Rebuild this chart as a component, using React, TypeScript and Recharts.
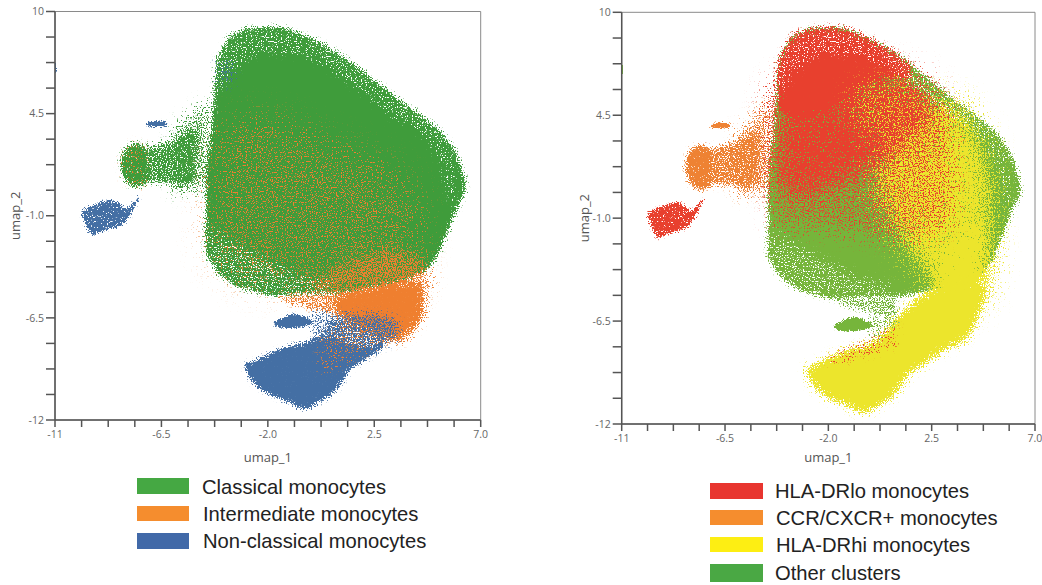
import React from 'react';
import { ComposedChart, Area, XAxis, YAxis, ReferenceArea } from 'recharts';

type Row = { x: number; r: [number, number] };
const rows = (a: [number, number, number][]): Row[] => a.map(([x, lo, hi]) => ({ x, r: [lo, hi] }));

// tick values and labels
const xTicks = [-11, -9.875, -8.75, -7.625, -6.5, -5.375, -4.25, -3.125, -2, -0.875, 0.25, 1.375, 2.5, 3.625, 4.75, 5.875, 7];
const yTicks = [10, 8.625, 7.25, 5.875, 4.5, 3.125, 1.75, 0.375, -1, -2.375, -3.75, -5.125, -6.5, -7.875, -9.25, -10.625, -12];
const xLabels: Record<string, string> = { '-11': '-11', '-6.5': '-6.5', '-2': '-2.0', '2.5': '2.5', '7': '7.0' };
const yLabels: Record<string, string> = { '10': '10', '4.5': '4.5', '-1': '-1.0', '-6.5': '-6.5', '-12': '-12' };

// cluster outlines: [umap_1, umap_2 low, umap_2 high]
const mainBody = rows([[-4.62, -3.0, 1.6], [-4.45, -3.4, 3.0], [-4.3, -3.7, 4.6], [-4.16, -4.0, 7.2], [-3.88, -4.3, 8.1], [-3.45, -4.7, 8.8], [-2.61, -5.05, 9.1], [-1.62, -5.3, 9.16], [-0.63, -5.2, 8.8], [0.78, -5.2, 7.9], [2.19, -4.9, 6.6], [3.6, -4.5, 5.2], [4.87, -3.7, 4.0], [5.57, -1.94, 3.1], [6.1, -0.3, 1.9], [6.33, 0.2, 0.9]]);
const leftBlob = rows([[-8.22, 1.5, 2.0], [-7.97, 0.8, 2.7], [-7.5, 0.5, 2.9], [-7.1, 0.8, 2.55]]);
const leftMid = rows([[-7.5, 0.8, 2.7], [-6.28, 0.75, 3.0], [-5.6, 0.55, 3.4], [-5.0, 0.95, 3.9]]);
const leftTail = rows([[-6.0, 0.2, 3.6], [-5.0, 0.4, 4.7], [-4.4, 0.8, 5.3]]);
const thinStreak = rows([[-7.12, 3.85, 4.0], [-6.7, 3.8, 4.1], [-6.3, 3.85, 4.05]]);
const farBlob = rows([[-9.87, -0.9, -0.8], [-9.66, -1.6, -0.55], [-9.4, -2.05, -0.45], [-9.0, -1.85, -0.25], [-8.6, -1.7, -0.15], [-8.25, -1.55, -0.35], [-8.0, -1.3, -0.6], [-7.7, -0.7, -0.3], [-7.45, -0.1, 0.1]]);
const midCluster = rows([[-1.73, -6.9, -6.7], [-1.3, -7.05, -6.45], [-0.87, -7.05, -6.3], [-0.45, -6.95, -6.45], [-0.1, -6.8, -6.65]]);
const strayEdge = rows([[-11, 6.7, 7.2], [-10.95, 6.7, 7.2]]);

const lowerLobe = rows([[-2.96, -9.25, -8.95], [-2.61, -10.0, -8.85], [-2.04, -10.56, -8.49], [-1.2, -11.0, -8.05], [-0.48, -11.42, -7.85], [0.2, -11.0, -7.5], [0.9, -10.38, -7.6], [1.5, -9.3, -7.9], [2.2, -8.7, -8.0], [2.9, -8.1, -7.7]]);
const lobeMix = rows([[0.4, -8.6, -6.8], [1.5, -8.4, -6.3], [2.5, -8.1, -6.3], [3.5, -7.6, -6.6]]);
const orangeSolid = rows([[0.78, -6.2, -5.3], [1.63, -6.9, -5.0], [2.47, -7.4, -4.8], [3.3, -7.8, -4.6], [4.0, -7.4, -4.5], [4.6, -6.3, -4.6]]);
const orangeBand = rows([[-0.5, -5.3, -4.6], [0.8, -5.3, -3.8], [2.2, -5.0, -3.0], [3.6, -4.8, -2.8], [4.8, -5.2, -3.4]]);
const orangeWide = rows([[-4.4, -3.0, 2.8], [-3.0, -4.4, 4.2], [-1.5, -4.8, 4.0], [0, -4.8, 3.2], [1.5, -4.4, 2.4], [3.0, -3.8, 1.6], [4.4, -3.2, -0.2]]);
const orangeOnLobe = rows([[0.2, -9.5, -7.6], [1.5, -8.8, -6.6], [3.4, -7.6, -6.5]]);
const blueOnTop = rows([[-4.2, 6.0, 7.4], [-3.4, 6.0, 7.4]]);
const gapUpper = rows([[-1.6, -5.55, -5.3], [-0.5, -5.95, -5.2], [0.5, -6.3, -5.2], [1.0, -6.4, -5.3]]);
const gapLower = rows([[-0.2, -7.2, -6.1], [0.5, -7.8, -6.2], [1.2, -7.6, -6.2]]);
const holesLowerLeft = rows([[-4.5, -3.4, -1.6], [-3.5, -4.7, -2.4], [-2.0, -5.3, -3.4], [-0.5, -5.3, -4.2], [0.8, -5.3, -4.6]]);
const holesUpperLeft = rows([[-4.2, 5.5, 7.4], [-3.4, 6.8, 8.8], [-2.2, 7.8, 9.2], [-0.6, 7.6, 8.9], [1.0, 6.6, 7.8], [3.0, 4.6, 5.6], [5.0, 2.6, 4.0], [5.9, -1.0, 2.0]]);

const yellowLobe = rows([[-2.96, -9.25, -8.95], [-2.61, -10.0, -8.85], [-2.04, -10.56, -8.49], [-1.2, -11.0, -8.05], [-0.48, -11.42, -7.85], [0.2, -11.0, -7.4], [0.9, -10.38, -6.5], [1.55, -9.3, -5.6], [2.28, -8.76, -5.0], [3.0, -8.04, -4.7], [3.73, -7.68, -4.6], [4.3, -6.9, -4.6], [4.6, -5.9, -4.6], [4.9, -4.9, -4.5]]);
const yellowHaze = rows([[0, 0.5, 3.5], [0.83, -1.5, 5.0], [2.0, -3.6, 5.3], [2.9, -5.0, 5.3], [3.73, -6.0, 5.0], [5.0, -4.4, 2.0]]);
const yellowRight = rows([[3.8, -3.4, 3.0], [4.7, -3.6, 1.8], [5.3, -2.6, 1.0]]);
const yellowCoreLow = rows([[2.6, -5.2, -4.0], [3.4, -5.5, -2.8], [4.2, -5.5, -1.4], [4.7, -5.3, -1.2]]);
const yellowCoreMid = rows([[1.7, 0.2, 1.8], [2.6, -0.4, 2.2], [3.2, 0, 2.0]]);
const redTop = rows([[-4.2, 5.5, 7.2], [-3.88, 4.5, 8.1], [-3.45, 4.3, 8.8], [-2.61, 4.6, 9.1], [-1.62, 5.0, 9.16], [-0.63, 5.8, 8.8], [0.78, 6.5, 7.9], [1.6, 6.4, 7.1]]);
const redFade = rows([[-4.3, 0.2, 6.0], [-3.0, 0.2, 6.4], [-1.5, 0.8, 6.5], [0, 1.8, 6.8], [1.5, 3.0, 6.6], [2.5, 4.0, 5.7]]);
const redWide = rows([[-4.4, -1.5, 3.0], [-2.0, -1.6, 4.0], [0, -2.0, 5.0], [2.0, -2.2, 5.5], [3.5, -1.0, 5.0]]);
const yellowOnRed = rows([[-1.0, 4.0, 6.0], [1.0, 3.0, 6.5], [2.0, 3.0, 6.0]]);
const redOnLobe = rows([[-2.0, -8.9, -8.4], [-0.5, -8.4, -7.6], [1.0, -7.8, -6.6]]);

// palettes
const cGreen = '#3f9c3b', cOrange = '#ef7f2f', cBlue = '#446fa4';
const rRed = '#e8402e', rOrange = '#ee8233', rYellow = '#ece52c', rGreen = '#76b53b', white = '#ffffff';

type Layer = { data: Row[]; color: string; blur: number; density: number };
const L = (data: Row[], color: string, blur: number, density: number): Layer => ({ data, color, blur, density });

const leftLayers: Layer[] = [
  L(mainBody, cGreen, 2.5, 1.14),
  L(leftMid, cGreen, 3, 0.78),
  L(leftBlob, cGreen, 2.5, 1.04),
  L(leftTail, cGreen, 7, 0.55),
  L(leftBlob, cOrange, 4, 0.22),
  L(thinStreak, cBlue, 0.8, 1.2),
  L(farBlob, cBlue, 1.8, 0.98),
  L(midCluster, cBlue, 1.2, 1.15),
  L(orangeWide, cOrange, 16, 0.3),
  L(orangeBand, cOrange, 8, 0.62),
  L(gapUpper, cOrange, 2, 0.55),
  L(gapLower, cBlue, 3, 0.45),
  L(orangeSolid, cOrange, 4, 1.12),
  L(lobeMix, cBlue, 4, 0.72),
  L(lowerLobe, cBlue, 2, 1.12),
  L(orangeOnLobe, cOrange, 5, 0.28),
  L(blueOnTop, cBlue, 4, 0.35),
  L(holesLowerLeft, white, 5, 0.3),
  L(holesUpperLeft, white, 3, 0.26),
  L(strayEdge, cBlue, 0.2, 1.4),
];

const rightLayers: Layer[] = [
  L(mainBody, rGreen, 2.5, 1.14),
  L(leftMid, rOrange, 3, 0.78),
  L(leftBlob, rOrange, 2.5, 1.04),
  L(leftTail, rOrange, 7, 0.55),
  L(thinStreak, rOrange, 0.8, 1.2),
  L(farBlob, rRed, 1.8, 0.98),
  L(midCluster, rGreen, 1.2, 1.15),
  L(gapUpper, rGreen, 2, 0.55),
  L(gapLower, rGreen, 3, 0.4),
  L(yellowRight, rYellow, 10, 0.45),
  L(yellowHaze, rYellow, 14, 0.98),
  L(yellowCoreLow, rYellow, 8, 1.12),
  L(yellowCoreMid, rYellow, 10, 1.02),
  L(yellowLobe, rYellow, 4, 1.15),
  L(redOnLobe, rRed, 3, 0.25),
  L(redWide, rRed, 10, 0.42),
  L(redFade, rRed, 14, 0.95),
  L(redTop, rRed, 3, 1.12),
  L(yellowOnRed, rYellow, 10, 0.32),
  L(holesLowerLeft, white, 5, 0.3),
  L(holesUpperLeft, white, 3, 0.26),
  L(strayEdge, rGreen, 0.2, 1.4),
];

const leftLegend = [
  { label: 'Classical monocytes', swatch: '#45a843', top: 478, h: 16, textX: 202, cy: 487 },
  { label: 'Intermediate monocytes', swatch: '#f58d2e', top: 506, h: 15, textX: 203, cy: 514 },
  { label: 'Non-classical monocytes', swatch: '#4169a8', top: 533, h: 16, textX: 203, cy: 541 },
];
const rightLegend = [
  { label: 'HLA-DRlo monocytes', swatch: '#e8352f', top: 483, h: 16, textX: 775, cy: 491 },
  { label: 'CCR/CXCR+ monocytes', swatch: '#f58d2e', top: 510, h: 15, textX: 776, cy: 518 },
  { label: 'HLA-DRhi monocytes', swatch: '#fdee13', top: 537, h: 15, textX: 776, cy: 545 },
  { label: 'Other clusters', swatch: '#4aa844', top: 564, h: 18, textX: 775, cy: 573 },
];

const fid = (l: Layer) => `d${l.color.slice(1)}_${String(l.blur).replace('.', '_')}_${String(l.density).replace('.', '_')}`;

function Filters() {
  const all = [...leftLayers, ...rightLayers];
  const seen = new Set<string>();
  const uniq = all.filter((l) => { const k = fid(l); if (seen.has(k)) return false; seen.add(k); return true; });
  return (
    <svg width={0} height={0} style={{ position: 'absolute' }}>
      <defs>
        {uniq.map((l, i) => (
          <filter key={fid(l)} id={fid(l)} colorInterpolationFilters="sRGB" x="-40%" y="-40%" width="180%" height="180%">
            <feGaussianBlur in="SourceAlpha" stdDeviation={l.blur} result="b" />
            <feTurbulence type="fractalNoise" baseFrequency={0.8} numOctaves={1} seed={3 + i} result="n" />
            <feColorMatrix in="n" type="matrix" values="0 0 0 0 0 0 0 0 0 0 0 0 0 0 0 2.6 0 0 0 -0.8" result="na" />
            <feComposite in="b" in2="na" operator="arithmetic" k1={0} k2={l.density} k3={1} k4={-1} result="s" />
            <feComponentTransfer in="s" result="m"><feFuncA type="linear" slope={8} intercept={0} /></feComponentTransfer>
            <feFlood floodColor={l.color} result="f" />
            <feComposite in="f" in2="m" operator="in" />
          </filter>
        ))}
      </defs>
    </svg>
  );
}

function Panel({ left, width, height, plotW, plotH, top, layers, yAxisW, yLabelOffset }: any) {
  return (
    <div style={{ position: 'absolute', left, top: 0 }}>
      <ComposedChart width={width} height={height} margin={{ top, left: 0, right: width - yAxisW - plotW, bottom: 0 }}>
        <XAxis type="number" dataKey="x" domain={[-11, 7]} ticks={xTicks} interval={0} allowDataOverflow
          tickFormatter={(v: number) => xLabels[String(v)] ?? ''} height={height - top - plotH}
          tickSize={7} tickMargin={4} tick={{ fill: '#666', fontSize: 10.5, fontFamily: 'Open Sans' }} stroke="#555" strokeWidth={1.5}
          label={{ value: 'umap_1', position: 'insideBottom', offset: 8, fill: '#555', fontSize: 13, fontFamily: 'Open Sans' }} />
        <YAxis type="number" domain={[-12, 10]} ticks={yTicks} interval={0} width={yAxisW} allowDataOverflow
          tickFormatter={(v: number) => yLabels[String(v)] ?? ''}
          tickSize={9} tick={{ fill: '#666', fontSize: 10.5, fontFamily: 'Open Sans' }} stroke="#555" strokeWidth={1.5}
          label={{ value: 'umap_2', angle: -90, position: 'insideLeft', offset: yLabelOffset, textAnchor: 'middle', fill: '#555', fontSize: 13, fontFamily: 'Open Sans' }} />
        <ReferenceArea x1={-11} x2={7} y1={-12} y2={10} fill="none" stroke="#8a8a8a" strokeWidth={1} ifOverflow="visible" />
        {layers.map((l: Layer, i: number) => (
          <Area key={i} data={l.data} dataKey="r" type="monotone" stroke="none" fill="#000" fillOpacity={1}
            isAnimationActive={false} dot={false} activeDot={false} legendType="none"
            style={{ filter: `url(#${fid(l)})` }} />
        ))}
      </ComposedChart>
    </div>
  );
}

function LegendBlock({ items, x, w }: any) {
  return (
    <>
      {items.map((it: any) => (
        <React.Fragment key={it.label}>
          <div style={{ position: 'absolute', left: x, top: it.top, width: w, height: it.h, background: it.swatch }} />
          <div style={{ position: 'absolute', left: it.textX, top: it.cy - 13, height: 26, lineHeight: '26px', fontFamily: 'Liberation Sans', fontSize: 20.2, color: '#222', whiteSpace: 'nowrap' }}>{it.label}</div>
        </React.Fragment>
      ))}
    </>
  );
}

export default function App() {
  return (
    <div style={{ position: 'absolute', left: 0, top: 0, width: 1042, height: 585, background: '#fff', overflow: 'hidden' }}>
      <Filters />
      <Panel left={0} width={520} height={470} top={11.5} plotW={425.7} plotH={408.5} yAxisW={55} yLabelOffset={15} layers={leftLayers} />
      <Panel left={562} width={480} height={470} top={12.3} plotW={413.3} plotH={411.7} yAxisW={59.7} yLabelOffset={22} layers={rightLayers} />
      <LegendBlock items={leftLegend} x={137} w={52} />
      <LegendBlock items={rightLegend} x={710} w={53} />
    </div>
  );
}
